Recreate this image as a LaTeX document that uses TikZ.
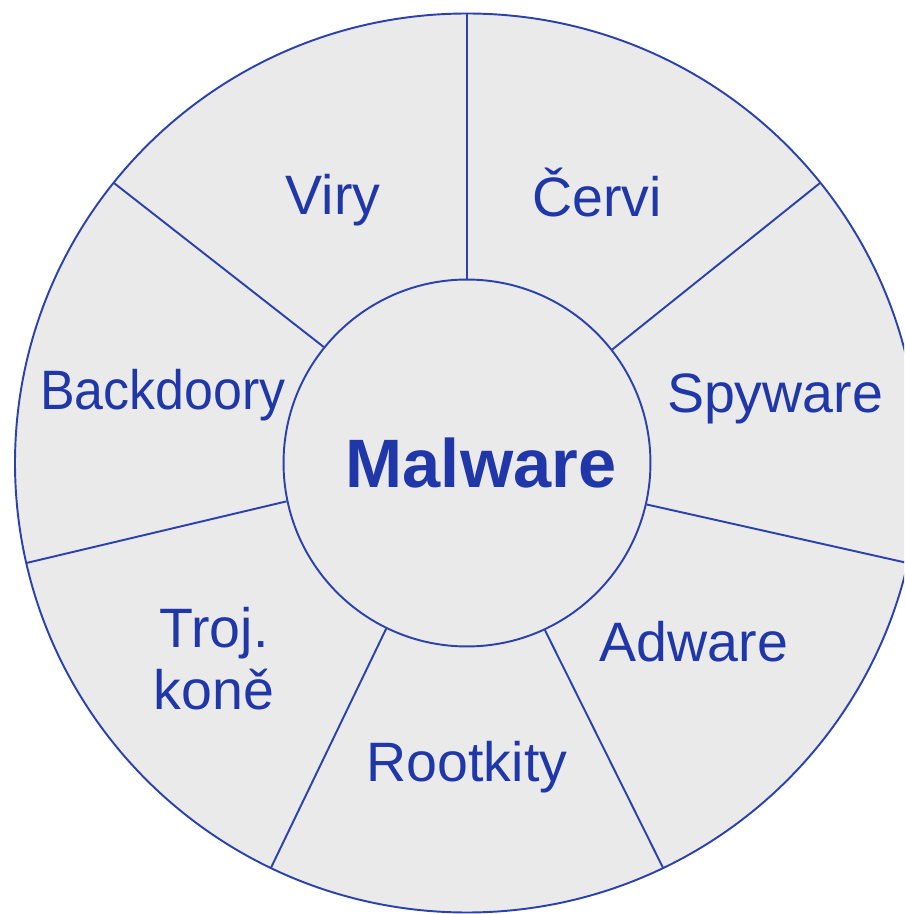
\documentclass[tikz,border=0pt]{standalone}
\usepackage{fontspec}
\setmainfont{Liberation Sans}
\definecolor{ringblue}{HTML}{2B42AE}
\definecolor{textblue}{HTML}{1F37A8}
\definecolor{ringgray}{HTML}{EAEAEA}

\begin{document}
\begin{tikzpicture}[x=0.02cm,y=0.02cm,
    ring/.style={draw=ringblue,line width=1.1pt},
    kind/.style={text=textblue,font=\fontsize{31.6}{35.7}\selectfont,
      align=center,text height=22.6pt,text depth=0pt,inner sep=0pt}]
  \useasboundingbox (0,0) rectangle (904,914);
  \clip (0,0) rectangle (904,914);
  % outer ring
  \draw[ring,fill=ringgray] (467,451) ellipse[x radius=452,y radius=449.5];
  % hub in the middle
  \node[circle,ring,inner sep=0pt,minimum size=7.34cm] (core) at (467,451) {};
  \node[text=textblue,font=\fontsize{39}{44}\selectfont\bfseries,
    text height=28pt,text depth=0pt,inner sep=0pt] (title) at (481,451) {Malware};
  % spokes between the seven kinds
  \foreach \k [evaluate=\k as \ang using 90+\k*360/7] in {0,...,6}
    \draw[ring] (core.\ang) -- ([shift={(\ang:452 and 449.5)}]core.center);
  % the kinds
  \node[kind] (viry) at (333,719) {Viry};
  \node[kind] (cervi) at (597,717) {Červi};
  \node[kind] (spyware) at (775,521) {Spyware};
  \node[kind] (adware) at (694,272) {Adware};
  \node[kind] (rootkity) at (467,152) {Rootkity};
  \node[kind] (trojane) at (214,224) {Troj.\\koně};
  \node[kind,xscale=0.935] (backdoory) at (163,524) {Backdoory};
\end{tikzpicture}
\end{document}
